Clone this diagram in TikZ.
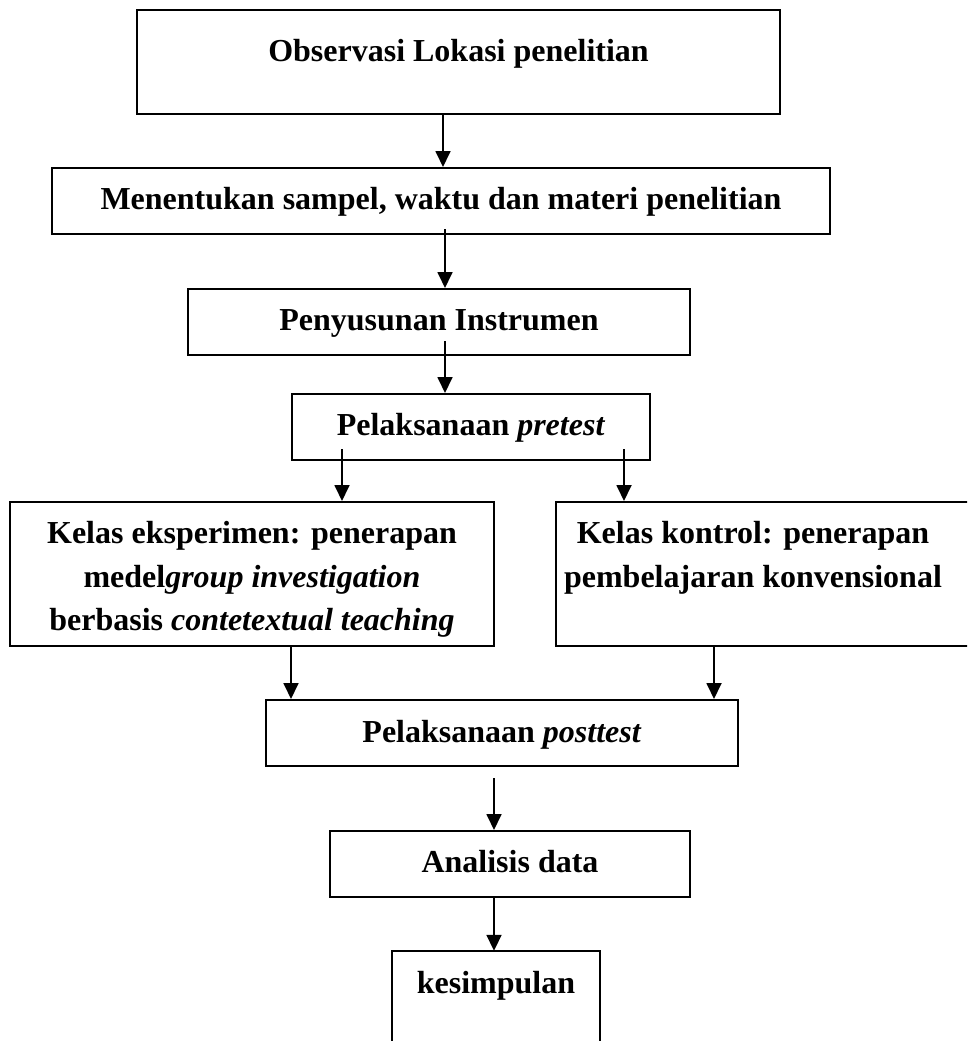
\documentclass[tikz,border=0pt]{standalone}
\usepackage{fontspec}
\setmainfont{Liberation Serif}
\usetikzlibrary{arrows.meta,calc}
\begin{document}
\begin{tikzpicture}[x=1pt,y=-1pt,
  box/.style={draw=black,line width=2pt,rectangle,inner sep=0pt},
  txt/.style={inner sep=0pt,anchor=base,font=\fontsize{32}{44}\selectfont\bfseries,align=center},
  arr/.style={line width=1.8pt,-{Triangle[length=16pt,width=15pt]}}]
\useasboundingbox (0,0) rectangle (967,1041);
\clip (0,0) rectangle (967,1041);
% boxes
\node[box,minimum width=643pt,minimum height=104pt] (b1) at (458.5,62) {};
\node[box,minimum width=778pt,minimum height=66pt] (b2) at (441,201) {};
\node[box,minimum width=502pt,minimum height=66pt] (b3) at (439,322) {};
\node[box,minimum width=358pt,minimum height=66pt] (b4) at (471,427) {};
\node[box,minimum width=484pt,minimum height=144pt] (b5) at (252,574) {};
\node[box,minimum width=444pt,minimum height=144pt] (b6) at (778,574) {};
\node[box,minimum width=472pt,minimum height=66pt] (b7) at (502,733) {};
\node[box,minimum width=360pt,minimum height=66pt] (b8) at (510,864) {};
\node[inner sep=0pt,minimum width=208pt,minimum height=110pt] (b9) at (496,1006) {};
\draw[line width=2pt] (b9.south west) -- (b9.north west) -- (b9.north east) -- (b9.south east);
% texts
\node[txt] (t1) at (458.5,62) {Observasi Lokasi penelitian};
\node[txt] (t2) at (441,209) {Menentukan sampel, waktu dan materi penelitian};
\node[txt] (t3) at (439,330) {Penyusunan Instrumen};
\node[txt] (t4) at (471,435) {Pelaksanaan \textit{pretest}};
\node[txt] (t5a) at (252,543) {Kelas eksperimen: penerapan};
\node[txt] (t5b) at (252,587) {medel\textit{group investigation}};
\node[txt] (t5c) at (252,630) {berbasis \textit{contetextual teaching}};
\node[txt] (t6a) at (753,543) {Kelas kontrol: penerapan};
\node[txt] (t6b) at (753,587) {pembelajaran konvensional};
\node[txt] (t7) at (502,742) {Pelaksanaan \textit{posttest}};
\node[txt] (t8) at (510,872) {Analisis data};
\node[txt] (t9) at (496,993) {kesimpulan};
% arrows
\draw[arr] ([xshift=-15.5pt]b1.south) -- ([xshift=-15.5pt]b1.south |- b2.north);
\draw[arr] ([xshift=4pt,yshift=6pt]b2.south) -- ([xshift=4pt]b2.south |- b3.north);
\draw[arr] ([xshift=6pt,yshift=15pt]b3.south) -- ([xshift=6pt]b3.south |- b4.north);
\draw[arr] ([xshift=-129pt,yshift=12pt]b4.south) -- ([xshift=-129pt]b4.south |- b5.north);
\draw[arr] ([xshift=153pt,yshift=12pt]b4.south) -- ([xshift=153pt]b4.south |- b6.north);
\draw[arr] ([xshift=39pt]b5.south) -- ([xshift=39pt]b5.south |- b7.north);
\draw[arr] ([xshift=-64pt]b6.south) -- ([xshift=-64pt]b6.south |- b7.north);
\draw[arr] ([xshift=-8pt,yshift=-11pt]b7.south) -- ([xshift=-8pt]b7.south |- b8.north);
\draw[arr] ([xshift=-16pt]b8.south) -- ([xshift=-16pt]b8.south |- b9.north);
\end{tikzpicture}
\end{document}
